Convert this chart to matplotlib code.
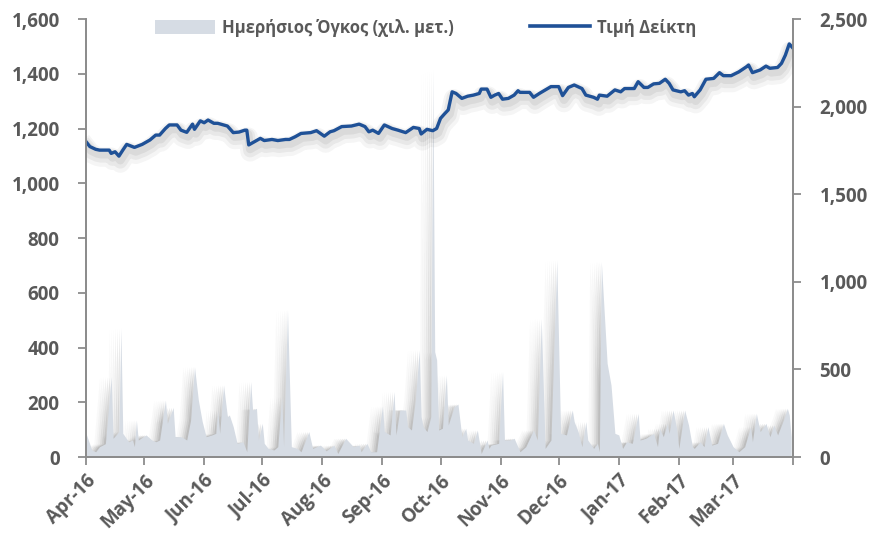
import matplotlib
matplotlib.use("Agg")
import matplotlib.pyplot as plt
import matplotlib.patheffects as pe
import matplotlib.ticker as mticker
from matplotlib.patches import Patch
from matplotlib.lines import Line2D
import pandas as pd

plt.rcParams['font.family'] = ['Open Sans', 'DejaVu Sans']

# index value (days counted from 1 Apr 2016)
line_days = [0, 2, 5, 7, 12, 13, 15, 17, 19, 21, 25, 29, 33, 36, 38, 41, 43, 47, 49, 52,
             55, 56, 59, 61, 63, 66, 68, 73, 76, 79, 82, 83, 84, 86, 90, 92, 96, 99, 103, 105,
             108, 111, 116, 119, 123, 126, 128, 132, 137, 141, 144, 146, 148, 151, 154, 158,
             161, 165, 169, 172, 173, 176, 179, 181, 183, 185, 187, 189, 191, 194, 197, 200,
             203, 204, 207, 209, 211, 213, 215, 218, 221, 223, 224, 229, 231, 234, 240, 244,
             246, 249, 252, 256, 258, 262, 264, 265, 269, 273, 276, 278, 283, 285, 288, 290,
             293, 296, 299, 301, 303, 307, 309, 311, 313, 314, 317, 320, 324, 327, 329, 333,
             337, 341, 342, 344, 348, 351, 353, 357, 359, 361, 363, 365]
line_vals = [1152, 1134, 1124, 1121, 1121, 1109, 1115, 1099, 1121, 1142, 1131, 1142, 1158, 1176,
             1176, 1200, 1213, 1213, 1194, 1186, 1216, 1197, 1228, 1221, 1231, 1219, 1219, 1209,
             1185, 1187, 1194, 1194, 1140, 1148, 1164, 1156, 1160, 1156, 1160, 1160, 1170, 1182,
             1185, 1192, 1172, 1188, 1192, 1207, 1209, 1216, 1207, 1188, 1194, 1182, 1213, 1200,
             1194, 1185, 1204, 1200, 1180, 1197, 1192, 1200, 1237, 1253, 1268, 1334, 1328, 1310,
             1318, 1322, 1328, 1344, 1344, 1314, 1322, 1328, 1307, 1310, 1322, 1338, 1332, 1332,
             1314, 1328, 1353, 1353, 1320, 1350, 1359, 1346, 1322, 1314, 1307, 1322, 1318, 1341,
             1334, 1346, 1346, 1371, 1350, 1350, 1363, 1365, 1380, 1365, 1341, 1334, 1338, 1322,
             1328, 1316, 1341, 1380, 1383, 1404, 1393, 1393, 1407, 1426, 1432, 1404, 1414, 1428,
             1420, 1423, 1438, 1468, 1509, 1493]

# daily volume (thousand shares)
vol_days = [0, 3, 5, 7, 10, 13, 14, 17, 18, 19, 22, 24, 25, 26, 27, 31, 34, 36, 38, 41,
            42, 45, 46, 49, 52, 54, 56, 58, 60, 62, 65, 67, 68, 69, 71, 73, 74, 76, 78, 81,
            83, 85, 86, 88, 89, 91, 92, 94, 97, 99, 101, 102, 104, 106, 109, 111, 115, 117, 121, 124,
            128, 130, 134, 138, 141, 142, 145, 147, 150, 153, 154, 157, 159, 160, 162, 165, 166, 168,
            170, 172, 173, 174, 176, 178, 179, 180, 181, 182, 184, 186, 187, 190, 192, 194, 196, 197,
            200, 202, 204, 207, 208, 209, 213, 215, 216, 219, 221, 224, 227, 231, 233, 235, 237, 240,
            243, 245, 248, 251, 252, 254, 256, 258, 259, 262, 264, 265, 266, 269, 271, 273, 275, 277,
            279, 282, 285, 286, 289, 293, 295, 296, 298, 300, 301, 303, 305, 306, 309, 311, 313, 314,
            317, 319, 321, 323, 326, 329, 331, 334, 337, 340, 343, 344, 346, 348, 351, 353, 355, 357,
            360, 362, 363, 364]
vol_vals = [135, 40, 30, 59, 76, 458, 107, 145, 735, 135, 87, 97, 59, 211, 97, 126, 97, 87, 97, 325,
            192, 283, 116, 116, 97, 211, 515, 325, 202, 116, 126, 135, 268, 135, 411, 230, 240, 173, 78, 87,
            30, 430, 268, 278, 97, 192, 78, 49, 40, 59, 344, 59, 839, 59, 49, 30, 145, 49, 68, 35,
            68, 20, 107, 59, 68, 30, 78, 30, 30, 291, 145, 126, 373, 126, 268, 268, 173, 154,
            325, 611, 230, 173, 145, 230, 2209, 601, 554, 154, 164, 468, 183, 287, 302, 116, 164, 97,
            78, 154, 20, 97, 49, 68, 78, 487, 97, 97, 107, 30, 59, 154, 97, 790, 49, 97,
            1124, 135, 126, 268, 202, 145, 59, 202, 97, 49, 78, 30, 1115, 535, 411, 135, 126, 49,
            87, 78, 249, 97, 107, 135, 59, 164, 116, 192, 135, 268, 154, 49, 268, 183, 59, 49,
            87, 59, 173, 68, 78, 192, 126, 59, 30, 59, 173, 87, 249, 145, 192, 116, 183, 126,
            211, 278, 240, 116]

start = pd.Timestamp('2016-04-01')
line_dates = start + pd.to_timedelta(line_days, unit='D')
vol_dates = start + pd.to_timedelta(vol_days, unit='D')
month_ticks = pd.date_range('2016-04-01', '2017-04-01', freq='MS')
month_labels = [d.strftime('%b-%y') for d in month_ticks[:-1]] + ['']

grey = '#595959'
spine_c = '#8c8c8c'
blue = '#1f5197'
fill_c = '#d6dce4'

fig = plt.figure(figsize=(8.73, 5.4), dpi=100)
ax = fig.add_axes([0.0985, 0.1537, 0.81, 0.8111])
ax2 = ax.twinx()
ax.set_zorder(ax2.get_zorder() + 1)
ax.patch.set_visible(False)

# volume area with a soft grey shadow to the left
for k, a in [(1, 0.14), (2, 0.12), (3, 0.09), (4, 0.06), (5, 0.04), (6, 0.03)]:
    ax2.fill_between(vol_dates - pd.Timedelta(days=k), vol_vals, color='#5f5f5f', alpha=a, lw=0)
ax2.fill_between(vol_dates, vol_vals, color=fill_c, lw=0)

shadow = [pe.SimpleLineShadow(offset=(1, -5), shadow_color='k', alpha=0.04, linewidth=14),
          pe.SimpleLineShadow(offset=(1, -4), shadow_color='k', alpha=0.05, linewidth=10),
          pe.SimpleLineShadow(offset=(1, -3), shadow_color='k', alpha=0.06, linewidth=6),
          pe.Normal()]
ax.plot(line_dates, line_vals, color=blue, lw=2.4, solid_joinstyle='round', path_effects=shadow)

ax.set_xlim(start, pd.Timestamp('2017-04-01'))
ax.set_ylim(0, 1600)
ax2.set_ylim(0, 2500)
ax.set_yticks(range(0, 1601, 200))
ax2.set_yticks(range(0, 2501, 500))
fmt = mticker.FuncFormatter(lambda v, p: f'{int(v):,}')
ax.yaxis.set_major_formatter(fmt)
ax2.yaxis.set_major_formatter(fmt)
ax.set_xticks(month_ticks)
ax.set_xticklabels(month_labels, rotation=45, ha='right', rotation_mode='anchor')

for a in (ax, ax2):
    for s in a.spines.values():
        s.set_color(spine_c)
        s.set_linewidth(1.3)
    a.spines['top'].set_visible(False)
    a.tick_params(colors=spine_c, labelcolor=grey, labelsize=13.5, length=6, width=1.3)
    for t in a.get_xticklabels() + a.get_yticklabels():
        t.set_fontweight('bold')
ax.tick_params(axis='y', pad=13)
ax2.tick_params(axis='y', pad=13)
ax.tick_params(axis='x', pad=4)

handles = [Patch(facecolor=fill_c, edgecolor='none'),
           Line2D([0], [0], color=blue, lw=2.6)]
leg = ax.legend(handles, ['Ημερήσιος Όγκος (χιλ. μετ.)', 'Τιμή Δείκτη'],
                loc='upper center', bbox_to_anchor=(0.48, 1.035), ncol=2, frameon=False,
                handlelength=3.6, handleheight=0.9, handletextpad=0.4, columnspacing=4.6,
                prop={'weight': 'bold', 'size': 12})
for t in leg.get_texts():
    t.set_color(grey)

fig.savefig('out.png', dpi=100)
